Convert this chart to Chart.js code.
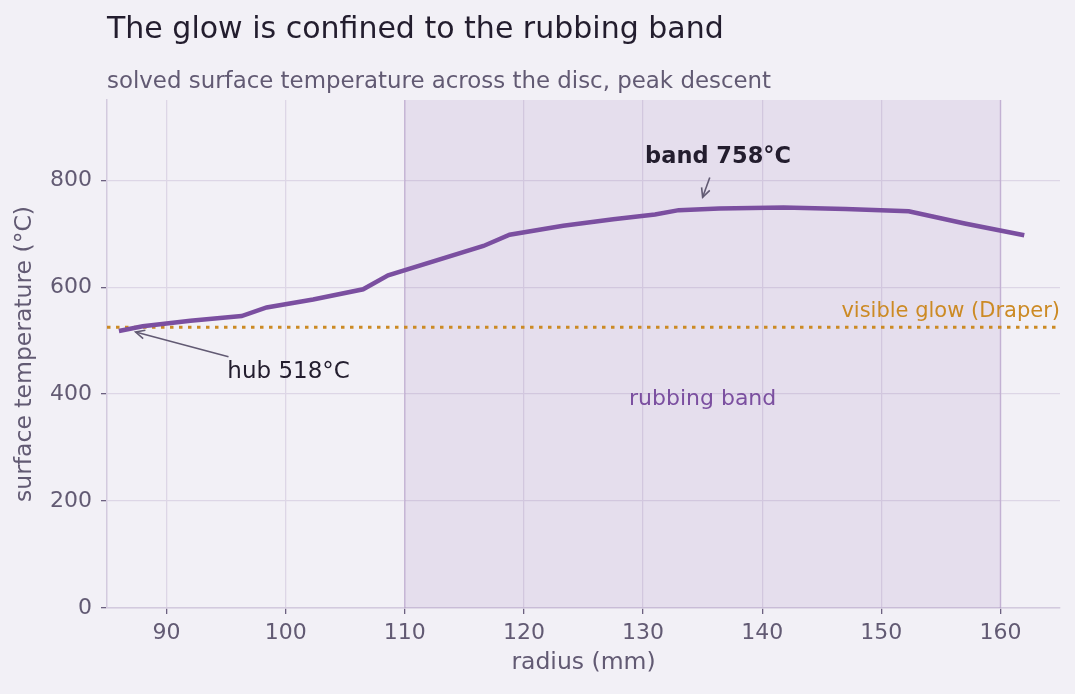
<!DOCTYPE html>
<html>
<head>
<meta charset="utf-8">
<script src="https://cdn.jsdelivr.net/npm/chart.js@4/dist/chart.umd.min.js"></script>
<style>
  html, body { margin: 0; padding: 0; background: #f2f0f6; }
  #wrap { width: 1075px; height: 694px; }
</style>
</head>
<body>
<div id="wrap"><canvas id="glowChart"></canvas></div>
<script>
// radius across the disc (mm) and solved surface temperature (°C)
const radiusMm = [86, 88, 92, 96.3, 98.4, 102.3, 106.5, 108.6, 116.6, 118.8, 123.3, 127.5, 131, 133, 136.4, 141.8, 147, 152.3, 157, 162];
const surfaceTempC = [518, 527, 537, 546, 562, 577, 596, 622, 677, 698, 715, 727, 736, 744, 747, 749, 746, 742, 719, 697];

// rubbing band edges (mm) and Draper visible-glow threshold (°C)
const bandEdgesMm = [110, 160];
const draperTempC = 525;
const xTicks = [90, 100, 110, 120, 130, 140, 150, 160];
const yTicks = [0, 200, 400, 600, 800];

const FONT = "'DejaVu Sans', sans-serif";
const INK = '#231d2e';
const MUTED = '#625a73';
const PURPLE = '#7b4fa0';
const AMBER = '#cc8a24';

// band shading + labels + arrows, positioned in data units
const overlay = {
  id: 'overlay',
  beforeDatasetsDraw(chart) {
    const { ctx, chartArea: a, scales: { x } } = chart;
    const x0 = x.getPixelForValue(bandEdgesMm[0]);
    const x1 = x.getPixelForValue(bandEdgesMm[1]);
    ctx.save();
    ctx.fillStyle = 'rgba(123,79,160,0.11)';
    ctx.fillRect(x0, a.top, x1 - x0, a.bottom - a.top);
    ctx.strokeStyle = 'rgba(123,79,160,0.22)';
    ctx.lineWidth = 1.5;
    [x0, x1].forEach(px => {
      ctx.beginPath(); ctx.moveTo(px, a.top); ctx.lineTo(px, a.bottom); ctx.stroke();
    });
    ctx.restore();
  },
  afterDatasetsDraw(chart) {
    const { ctx, chartArea: a, scales: { x, y } } = chart;
    ctx.save();
    ctx.textBaseline = 'middle';

    ctx.fillStyle = PURPLE;
    ctx.font = '22px ' + FONT;
    ctx.textAlign = 'center';
    ctx.fillText('rubbing band', x.getPixelForValue(135), y.getPixelForValue(391));

    ctx.fillStyle = AMBER;
    ctx.font = '21px ' + FONT;
    ctx.textAlign = 'right';
    ctx.textBaseline = 'alphabetic';
    ctx.fillText('visible glow (Draper)', a.right, y.getPixelForValue(draperTempC) - 10);

    ctx.textBaseline = 'middle';
    ctx.fillStyle = INK;
    ctx.font = '23px ' + FONT;
    ctx.textAlign = 'left';
    ctx.fillText('hub 518°C', x.getPixelForValue(95.1), y.getPixelForValue(441));
    ctx.font = 'bold 22.5px ' + FONT;
    ctx.textAlign = 'center';
    ctx.fillText('band 758°C', x.getPixelForValue(136.3), y.getPixelForValue(843));

    arrow(ctx, x.getPixelForValue(95.2), y.getPixelForValue(470), x.getPixelForValue(87.4), y.getPixelForValue(516));
    arrow(ctx, x.getPixelForValue(135.6), y.getPixelForValue(805), x.getPixelForValue(135.0), y.getPixelForValue(768));
    ctx.restore();

    // title and subtitle aligned with plot left edge
    ctx.save();
    ctx.textAlign = 'left';
    ctx.textBaseline = 'alphabetic';
    ctx.fillStyle = INK;
    ctx.font = '30px ' + FONT;
    ctx.fillText('The glow is confined to the rubbing band', a.left, 38);
    ctx.fillStyle = MUTED;
    ctx.font = '22.9px ' + FONT;
    ctx.fillText('solved surface temperature across the disc, peak descent', a.left, 88);
    ctx.restore();
  }
};

function arrow(ctx, fx, fy, tx, ty) {
  const ang = Math.atan2(ty - fy, tx - fx);
  const h = 10;
  ctx.strokeStyle = MUTED;
  ctx.lineWidth = 1.6;
  ctx.beginPath(); ctx.moveTo(fx, fy); ctx.lineTo(tx, ty); ctx.stroke();
  ctx.beginPath();
  ctx.moveTo(tx - h * Math.cos(ang - 0.45), ty - h * Math.sin(ang - 0.45));
  ctx.lineTo(tx, ty);
  ctx.lineTo(tx - h * Math.cos(ang + 0.45), ty - h * Math.sin(ang + 0.45));
  ctx.stroke();
}

const points = radiusMm.map((r, i) => ({ x: r, y: surfaceTempC[i] }));

new Chart(document.getElementById('glowChart'), {
  type: 'line',
  data: {
    datasets: [{
      label: 'surface temperature',
      data: points,
      borderColor: PURPLE,
      borderWidth: 4.5,
      pointRadius: 0,
      tension: 0,
      order: 1
    }, {
      label: 'visible glow (Draper)',
      data: [{ x: 85, y: draperTempC }, { x: 165, y: draperTempC }],
      borderColor: AMBER,
      borderWidth: 3,
      borderDash: [3.5, 5.5],
      pointRadius: 0,
      order: 2
    }]
  },
  options: {
    responsive: true,
    maintainAspectRatio: false,
    animation: false,
    layout: { padding: { top: 100, right: 15, left: 0, bottom: 0 } },
    plugins: {
      legend: { display: false },
      tooltip: { enabled: false }
    },
    scales: {
      x: {
        type: 'linear',
        min: 85, max: 165,
        afterBuildTicks: s => { s.ticks = xTicks.map(v => ({ value: v })); },
        afterFit: s => { s.height = 86; },
        ticks: { color: MUTED, font: { family: FONT, size: 22 }, padding: 6 },
        grid: { color: '#ddd6e6', lineWidth: 1.3, tickColor: '#6c6080', tickLength: 6 },
        border: { display: true, color: '#d3cade', width: 1.5 },
        title: { display: true, text: 'radius (mm)', color: MUTED, font: { family: FONT, size: 23.5 }, padding: { top: 0, bottom: 17 } }
      },
      y: {
        min: 0, max: 950,
        afterBuildTicks: s => { s.ticks = yTicks.map(v => ({ value: v })); },
        afterFit: s => { s.width = 107; },
        ticks: { color: MUTED, font: { family: FONT, size: 22 }, padding: 9 },
        grid: { color: '#ddd6e6', lineWidth: 1.3, tickColor: '#6c6080', tickLength: 6 },
        border: { display: true, color: '#d3cade', width: 1.5 },
        title: { display: true, text: 'surface temperature (°C)', color: MUTED, font: { family: FONT, size: 23.5 }, padding: { top: 11, bottom: 0 } }
      }
    }
  },
  plugins: [overlay]
});
</script>
</body>
</html>
